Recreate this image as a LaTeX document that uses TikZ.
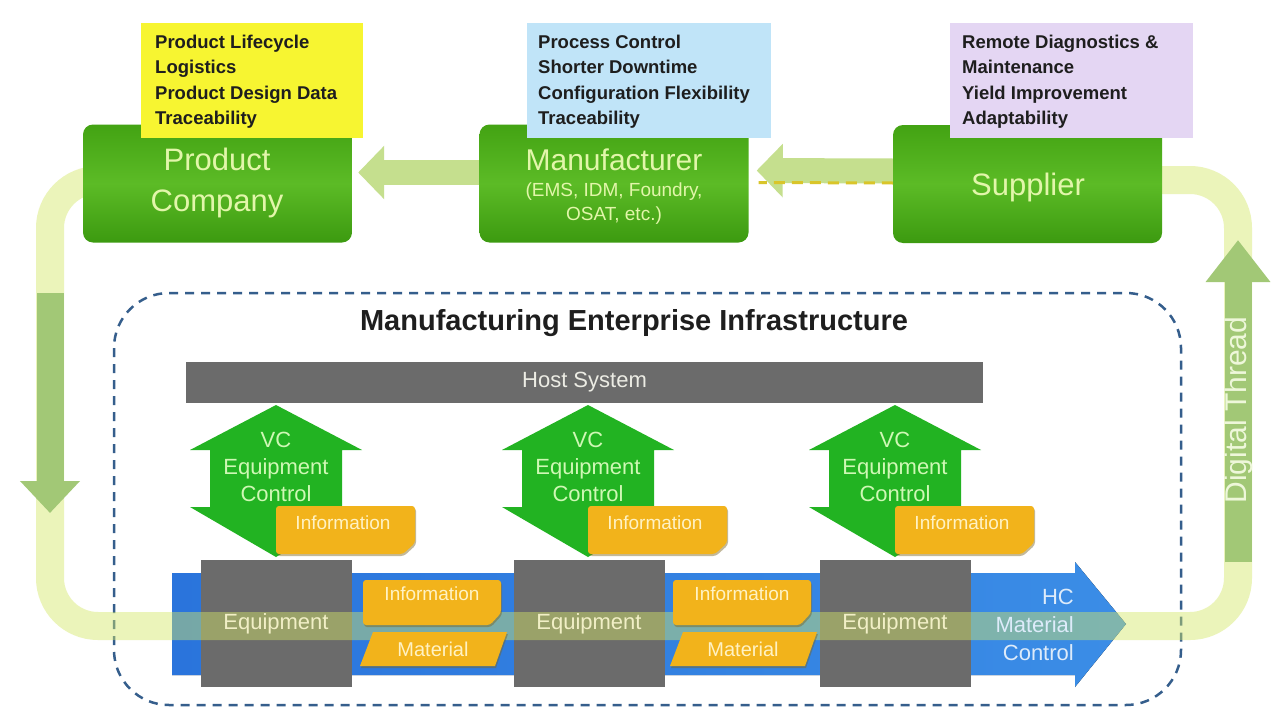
\documentclass[tikz,border=0pt]{standalone}
\usepackage{fontspec}
\setmainfont{Liberation Sans}
\usetikzlibrary{arrows.meta}
\definecolor{listyellow}{HTML}{F7F531}
\definecolor{listblue}{HTML}{C0E4F8}
\definecolor{listpurple}{HTML}{E4D6F3}
\definecolor{gboxtop}{HTML}{43A313}
\definecolor{gboxmid}{HTML}{5CBB26}
\definecolor{gboxbot}{HTML}{3C9A10}
\definecolor{gtext}{HTML}{E2F6AA}
\definecolor{ltgreen}{HTML}{C5DF8E}
\definecolor{dashyellow}{HTML}{D9C52A}
\definecolor{bandcol}{HTML}{D4E768}
\definecolor{dkgreen}{HTML}{A2C876}
\definecolor{vcgreen}{HTML}{22B322}
\definecolor{vctext}{HTML}{CFF8B5}
\definecolor{graybox}{HTML}{6B6B6B}
\definecolor{graytext}{HTML}{ECECE4}
\definecolor{eqtext}{HTML}{F1EFC6}
\definecolor{tagcol}{HTML}{F2B31B}
\definecolor{tagshadow}{HTML}{7A6420}
\definecolor{tagtext}{HTML}{FFF2C4}
\definecolor{bluebar}{HTML}{2A74DC}
\definecolor{bluebartwo}{HTML}{3B8DE6}
\definecolor{hctext}{HTML}{DDEBFA}
\definecolor{dashblue}{HTML}{355E8C}
\definecolor{titlecol}{HTML}{1E1E1E}
\definecolor{dttext}{HTML}{EEF7DA}

\begin{document}
\begin{tikzpicture}[x=1pt,y=-1pt,
  gbox/.style={rounded corners=10pt, minimum width=269pt, minimum height=118pt, inner sep=0pt, top color=gboxtop, bottom color=gboxbot, middle color=gboxmid},
  listbox/.style={minimum width=222pt, minimum height=115pt, inner sep=0pt, anchor=north west},
  listtext/.style={anchor=north west, inner sep=0pt, align=left, font=\bfseries\fontsize{18.5}{25.3}\selectfont, text=titlecol},
  gtitle/.style={inner sep=0pt, align=center, text=gtext, font=\fontsize{31}{41}\selectfont},
  gsub/.style={inner sep=0pt, align=center, text=gtext, font=\fontsize{19}{24}\selectfont},
  ltarrow/.style={draw=ltgreen, line width=25pt, -{Triangle[length=26pt,width=52pt]}},
  band/.style={draw=bandcol, line width=28pt, opacity=0.45},
  dkarrow/.style={draw=dkgreen, line width=27pt},
  vctxt/.style={inner sep=0pt, align=center, text=vctext, font=\fontsize{22}{27}\selectfont},
  grayblock/.style={fill=graybox, inner sep=0pt},
  eqbox/.style={grayblock, minimum width=151pt, minimum height=127pt},
  eqtxt/.style={inner sep=0pt, text=eqtext, font=\fontsize{22}{26}\selectfont},
  tagtxt/.style={inner sep=0pt, text=tagtext, font=\fontsize{19}{22}\selectfont},
  tagshade/.style={fill=tagshadow, opacity=0.45},
]
\useasboundingbox (0,0) rectangle (1280,720);
\fill[white] (0,0) rectangle (1280,720);

% enterprise frame
\draw[dashblue, line width=2.5pt, dash pattern=on 9pt off 7pt, rounded corners=55pt] (114,293) rectangle (1181,705);
\node[inner sep=0pt, font=\bfseries\fontsize{29}{30}\selectfont, text=titlecol] (title) at (634,323) {Manufacturing Enterprise Infrastructure};
\node[grayblock, minimum width=797pt, minimum height=41pt, text=graytext, font=\fontsize{22}{26}\selectfont] (host) at (584.5,382.5) {Host System};

% blue material flow arrow
\fill[left color=bluebar, right color=bluebartwo] (172,573) -- (1075,573) -- (1075,562) -- (1126,624) -- (1075,687) -- (1075,675) -- (172,675) -- cycle;

% equipment
\node[eqbox] (eq1) at (276,623.5) {};
\node[eqbox] (eq2) at (589,623.5) {};
\node[eqbox] (eq3) at (895,623.5) {};

% digital thread band
\coordinate (bandstart) at (130,180);
\coordinate (bandend) at (1120,180);
\draw[band, rounded corners=48pt] (bandstart) -- (50,180) -- (50,626) -- (1238,626) -- (1238,180) -- (bandend);

% top boxes
\node[gbox] (pc) at (217.5,183.5) {};
\node[gbox] (manu) at (614,183.5) {};
\node[gbox] (sup) at (1027.5,184) {};

\node[listbox, fill=listyellow] (l1) at (141,23) {};
\node[listbox, fill=listblue, minimum width=244pt] (l2) at (527,23) {};
\node[listbox, fill=listpurple, minimum width=243pt] (l3) at (950,23) {};

\node[listtext] (t1) at (155,35) {Product Lifecycle\\Logistics\\Product Design Data\\Traceability};
\node[listtext] (t2) at (538,35) {Process Control\\Shorter Downtime\\Configuration Flexibility\\Traceability};
\node[listtext] (t3) at (962,35) {Remote Diagnostics \&\\Maintenance\\Yield Improvement\\Adaptability};

\node[gtitle] (pctxt) at (217,183) {Product\\Company};
\node[gtitle, font=\fontsize{30}{34}\selectfont] (manutxt) at (614,160) {Manufacturer};
\node[gsub] (manusub) at (614,204) {(EMS, IDM, Foundry,\\OSAT, etc.)};
\node[gtitle] (suptxt) at (1028,187) {Supplier};

% flows between companies
\draw[ltarrow] ([yshift=11pt]manu.west) -- ([xshift=6pt,yshift=11pt]pc.east);
\draw[ltarrow] ([yshift=13pt]sup.west) -- ([xshift=8pt,yshift=13pt]manu.east);
\draw[dashyellow, line width=3pt, dash pattern=on 11pt off 7pt] ([yshift=1pt]sup.west) -- ([xshift=10pt,yshift=1pt]manu.east);

% digital thread arrows
\coordinate (dlt) at (50,293);
\coordinate (dlb) at (50,513);
\draw[dkarrow, -{Triangle[length=32pt,width=58pt]}] (dlt) -- (dlb);
\coordinate (drb) at (1238,562);
\coordinate (drt) at (1238,240);
\draw[dkarrow, -{Triangle[length=42pt,width=62pt]}] (drb) -- (drt);
\node[rotate=90, inner sep=0pt, text=dttext, font=\fontsize{30}{30}\selectfont] (dt) at (1239,410) {Digital Thread};

% vertical control arrows and information tags
\foreach \c/\i in {276/1,588/2,895/3} {
  \fill[vcgreen] (\c,405) -- ({\c+86},450) -- ({\c+66},450) -- ({\c+66},507) -- ({\c+86},507) -- (\c,557) -- ({\c-86},507) -- ({\c-66},507) -- ({\c-66},450) -- ({\c-86},450) -- cycle;
  \node[vctxt] (vc\i) at (\c,467) {VC\\Equipment\\Control};
  \fill[tagshade, rounded corners=3pt] ({\c+1},508) -- ({\c+140},508) -- ({\c+140},545) -- ({\c+128},556) -- ({\c+1},556) -- cycle;
  \fill[tagcol, rounded corners=3pt] (\c,506) -- ({\c+139},506) -- ({\c+139},543) -- ({\c+127},554) -- (\c,554) -- cycle;
  \node[tagtxt] (vi\i) at ({\c+67},523) {Information};
}

% information / material between equipment
\foreach \d/\i in {0/1,310/2} {
  \fill[tagshade, rounded corners=3pt] ({364+\d},582) -- ({502+\d},582) -- ({502+\d},615) -- ({491+\d},627) -- ({364+\d},627) -- cycle;
  \fill[tagcol, rounded corners=3pt] ({363+\d},580) -- ({501+\d},580) -- ({501+\d},613) -- ({490+\d},625) -- ({363+\d},625) -- cycle;
  \node[tagtxt] (mi\i) at ({432+\d},594) {Information};
  \fill[tagshade] ({374+\d},634) -- ({508+\d},634) -- ({496+\d},668) -- ({361+\d},668) -- cycle;
  \fill[tagcol] ({373+\d},632) -- ({507+\d},632) -- ({495+\d},666) -- ({360+\d},666) -- cycle;
  \node[tagtxt, font=\fontsize{20}{22}\selectfont] (mm\i) at ({433+\d},649) {Material};
}

\node[eqtxt] (eqt1) at (eq1.center) {Equipment};
\node[eqtxt] (eqt2) at (eq2.center) {Equipment};
\node[eqtxt] (eqt3) at (eq3.center) {Equipment};

\node[anchor=east, inner sep=0pt, align=right, text=hctext, font=\fontsize{22}{28}\selectfont] (hc) at (1074,625) {HC\\Material\\Control};
\end{tikzpicture}
\end{document}
